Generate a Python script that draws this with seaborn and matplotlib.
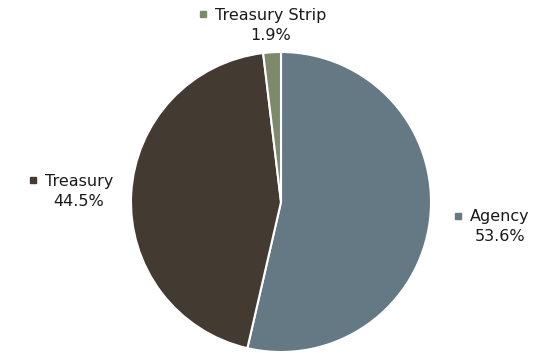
import numpy as np
import matplotlib
matplotlib.use("Agg")
import matplotlib.pyplot as plt
import seaborn as sns

categories = ["Agency", "Treasury", "Treasury Strip"]
values = [53.6, 44.5, 1.9]
colors = ["#647984", "#433a31", "#7c8a6b"]
label_dist = [1.47, 1.35, 1.18]

sns.set_theme(style="white")
plt.rcParams["font.family"] = ["DejaVu Sans"]

W, H, DPI = 542, 353, 100
fig = plt.figure(figsize=(W / DPI, H / DPI), dpi=DPI)
ax = fig.add_axes([0, 0, 1, 1])
R = 150.0
cx, cy = 281.0, 202.0

wedges, _ = ax.pie(values, colors=colors, startangle=90, counterclock=False,
                   radius=1.0, center=(0, 0), frame=True,
                   wedgeprops=dict(edgecolor="white", linewidth=1.5))
ax.set_aspect("auto")
ax.set_xlim(-cx / R, (W - cx) / R)
ax.set_ylim(-(H - cy) / R, cy / R)
ax.axis("off")

fs = 11.5
names = []
for w, name, val, d, col in zip(wedges, categories, values, label_dist, colors):
    mid = np.deg2rad((w.theta1 + w.theta2) / 2)
    x, y = d * np.cos(mid), d * np.sin(mid)
    t1 = ax.annotate(name, (x, y), xytext=(0, 7.2), textcoords="offset points",
                     ha="center", va="center", fontsize=fs, color="#1a1a1a")
    ax.annotate(f"{val:.1f}%", (x, y), xytext=(0, -7.2), textcoords="offset points",
                ha="center", va="center", fontsize=fs, color="#1a1a1a")
    names.append((t1, col))

fig.canvas.draw()
renderer = fig.canvas.get_renderer()
inv = ax.transData.inverted()
for t, col in names:
    bb = t.get_window_extent(renderer)
    px = bb.x0 - 12
    py = (bb.y0 + bb.y1) / 2 + 1
    dx, dy = inv.transform((px, py))
    ax.plot([dx], [dy], marker="s", markersize=5, color=col, linestyle="none")

fig.savefig("out.png", dpi=DPI)
